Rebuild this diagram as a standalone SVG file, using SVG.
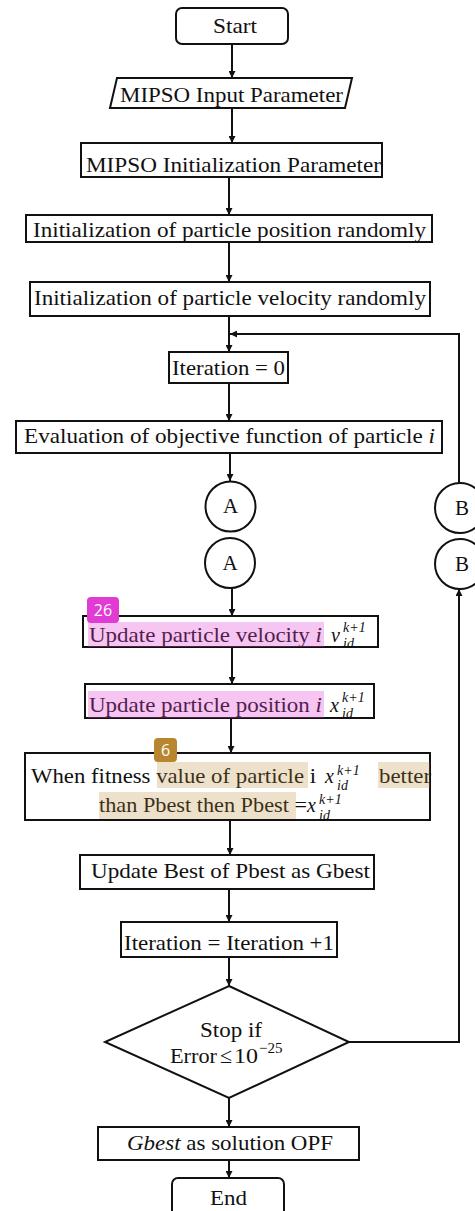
<svg xmlns="http://www.w3.org/2000/svg" width="475" height="1211" viewBox="0 0 475 1211" font-family="'Liberation Serif', 'DejaVu Serif', serif">
<style>
.box{fill:#fff;stroke:#111;stroke-width:2}
.t{font-family:'Liberation Serif','DejaVu Serif',serif;font-size:21px;fill:#111}
.m{font-family:'Liberation Serif','DejaVu Serif',serif;font-size:20px;font-style:italic;fill:#111}
.s{font-family:'Liberation Serif','DejaVu Serif',serif;font-size:14px;font-style:italic;fill:#111}
.c{fill:none;stroke:#111;stroke-width:2}
.hp{fill:#e040d0;fill-opacity:0.3}
.hb{fill:#b8862f;fill-opacity:0.25}
.badge{font-family:'Open Sans','DejaVu Sans',sans-serif;font-size:16px;fill:#fff}
</style>
<defs>
<marker id="ah" viewBox="0 0 10 10" refX="10" refY="5" markerWidth="7" markerHeight="7" markerUnits="userSpaceOnUse" orient="auto">
<path d="M0,0 L10,5 L0,10 z" fill="#111"/>
</marker>
</defs>
<rect width="475" height="1211" fill="#fff"/>

<g id="connectors">
<line class="c" x1="232" y1="44" x2="232" y2="78" marker-end="url(#ah)"/>
<line class="c" x1="232" y1="108" x2="232" y2="143" marker-end="url(#ah)"/>
<line class="c" x1="229" y1="177" x2="229" y2="215" marker-end="url(#ah)"/>
<line class="c" x1="229" y1="242" x2="229" y2="282" marker-end="url(#ah)"/>
<line class="c" x1="229" y1="316" x2="229" y2="352" marker-end="url(#ah)"/>
<polyline class="c" points="459,483 459,334 230,334" marker-end="url(#ah)"/>
<line class="c" x1="229" y1="383" x2="229" y2="421" marker-end="url(#ah)"/>
<line class="c" x1="230" y1="453" x2="230" y2="481" marker-end="url(#ah)"/>
<line class="c" x1="232" y1="588" x2="232" y2="616" marker-end="url(#ah)"/>
<line class="c" x1="232" y1="647" x2="232" y2="684" marker-end="url(#ah)"/>
<line class="c" x1="231" y1="718" x2="231" y2="753" marker-end="url(#ah)"/>
<line class="c" x1="230" y1="820" x2="230" y2="855" marker-end="url(#ah)"/>
<line class="c" x1="229" y1="889" x2="229" y2="922" marker-end="url(#ah)"/>
<line class="c" x1="229" y1="957" x2="229" y2="986" marker-end="url(#ah)"/>
<polyline class="c" points="349,1042 459,1042 459,589" marker-end="url(#ah)"/>
<line class="c" x1="229" y1="1098" x2="229" y2="1127" marker-end="url(#ah)"/>
<line class="c" x1="229" y1="1160" x2="229" y2="1178" marker-end="url(#ah)"/>
</g>

<g id="start">
<rect class="box" x="176" y="8" width="112" height="36" rx="6"/>
<text class="t" x="235" y="33" text-anchor="middle" textLength="44" lengthAdjust="spacingAndGlyphs">Start</text>
</g>

<g id="input">
<polygon class="box" points="117,78 352,78 345,108 110,108"/>
<text class="t" x="231.5" y="102" text-anchor="middle" textLength="223" lengthAdjust="spacingAndGlyphs">MIPSO Input Parameter</text>
</g>

<g id="init-param">
<rect class="box" x="81" y="143" width="301" height="34"/>
<text class="t" x="233.5" y="172" text-anchor="middle" textLength="295" lengthAdjust="spacingAndGlyphs">MIPSO Initialization Parameter</text>
</g>

<g id="init-position">
<rect class="box" x="26" y="215" width="406" height="27"/>
<text class="t" x="229.5" y="237" text-anchor="middle" textLength="393" lengthAdjust="spacingAndGlyphs">Initialization of particle position randomly</text>
</g>

<g id="init-velocity">
<rect class="box" x="30" y="282" width="400" height="34"/>
<text class="t" x="230" y="305" text-anchor="middle" textLength="392" lengthAdjust="spacingAndGlyphs">Initialization of particle velocity randomly</text>
</g>

<g id="iteration0">
<rect class="box" x="169" y="352" width="119" height="31"/>
<text class="t" x="228.5" y="375" text-anchor="middle" textLength="113" lengthAdjust="spacingAndGlyphs">Iteration = 0</text>
</g>

<g id="evaluation">
<rect class="box" x="16" y="421" width="426" height="32"/>
<text class="t" x="229.5" y="443" text-anchor="middle" textLength="411" lengthAdjust="spacingAndGlyphs">Evaluation of objective function of particle <tspan font-style="italic">i</tspan></text>
</g>

<g id="connector-a1">
<circle class="box" cx="230.5" cy="506.5" r="25"/>
<text class="t" x="230.5" y="513" text-anchor="middle">A</text>
</g>
<g id="connector-a2">
<circle class="box" cx="230" cy="563" r="25"/>
<text class="t" x="230" y="570" text-anchor="middle">A</text>
</g>
<g id="connector-b1">
<circle class="box" cx="460" cy="508" r="25"/>
<text class="t" x="462" y="515" text-anchor="middle">B</text>
</g>
<g id="connector-b2">
<circle class="box" cx="460" cy="564" r="25"/>
<text class="t" x="462" y="571" text-anchor="middle">B</text>
</g>

<g id="update-velocity">
<rect class="box" x="83" y="616" width="295" height="31"/>
<text class="t" x="89" y="642" textLength="233" lengthAdjust="spacingAndGlyphs">Update particle velocity <tspan font-style="italic">i</tspan></text>
<text class="m" x="331" y="642">v</text>
<text class="s" x="343" y="632">k+1</text>
<text class="s" x="343" y="648">id</text>
<rect class="hp" x="88" y="622" width="236" height="25"/>
</g>

<g id="update-position">
<rect class="box" x="85" y="684" width="289" height="34"/>
<text class="t" x="89" y="712" textLength="233" lengthAdjust="spacingAndGlyphs">Update particle position <tspan font-style="italic">i</tspan></text>
<text class="m" x="330" y="712">x</text>
<text class="s" x="342" y="702">k+1</text>
<text class="s" x="342" y="718">id</text>
<rect class="hp" x="88" y="691" width="236" height="27"/>
</g>

<g id="fitness">
<rect class="box" x="25" y="753" width="405" height="67"/>
<text class="t" x="31" y="783" textLength="285" lengthAdjust="spacingAndGlyphs">When fitness value of particle i</text>
<text class="m" x="325" y="783">x</text>
<text class="s" x="337" y="775">k+1</text>
<text class="s" x="337" y="790">id</text>
<text class="t" x="379" y="783" textLength="52" lengthAdjust="spacingAndGlyphs">better</text>
<text class="t" x="99" y="812" textLength="208" lengthAdjust="spacingAndGlyphs">than Pbest then Pbest =</text>
<text class="m" x="307" y="812">x</text>
<text class="s" x="319" y="804">k+1</text>
<text class="s" x="319" y="820">id</text>
<rect class="hb" x="157" y="762" width="151" height="26"/>
<rect class="hb" x="378" y="762" width="52" height="26"/>
<rect class="hb" x="99" y="792" width="197" height="27"/>
</g>

<g id="update-gbest">
<rect class="box" x="80" y="855" width="294" height="34"/>
<text class="t" x="230.5" y="878" text-anchor="middle" textLength="279" lengthAdjust="spacingAndGlyphs">Update Best of Pbest as Gbest</text>
</g>

<g id="iteration-inc">
<rect class="box" x="121" y="922" width="216" height="35"/>
<text class="t" x="229" y="950" text-anchor="middle" textLength="210" lengthAdjust="spacingAndGlyphs">Iteration = Iteration +1</text>
</g>

<g id="decision">
<polygon class="box" points="229,986 349,1042 229,1098 105,1042"/>
<text class="t" x="231" y="1037" text-anchor="middle" textLength="62" lengthAdjust="spacingAndGlyphs">Stop if</text>
<text class="t" x="170" y="1063" textLength="47" lengthAdjust="spacingAndGlyphs">Error</text>
<text class="t" x="220" y="1063" style="font-size:22px">≤</text>
<text class="t" x="234" y="1063" textLength="24" lengthAdjust="spacingAndGlyphs">10</text>
<text class="t" x="259" y="1053" style="font-size:15px">−25</text>
</g>

<g id="solution">
<rect class="box" x="98" y="1127" width="261" height="33"/>
<text class="t" x="230" y="1150" text-anchor="middle" textLength="206" lengthAdjust="spacingAndGlyphs"><tspan font-style="italic">Gbest</tspan> as solution OPF</text>
</g>

<g id="end">
<rect class="box" x="172" y="1178" width="112" height="40" rx="6"/>
<text class="t" x="228.5" y="1205" text-anchor="middle" textLength="37" lengthAdjust="spacingAndGlyphs">End</text>
</g>

<g id="badge-26">
<rect x="87" y="597" width="32" height="26" rx="4" fill="#e23bd4"/>
<text class="badge" x="103" y="616" text-anchor="middle">26</text>
</g>
<g id="badge-6">
<rect x="154" y="738" width="23" height="24" rx="4" fill="#b8862f"/>
<text class="badge" x="165.5" y="756" text-anchor="middle">6</text>
</g>
</svg>
